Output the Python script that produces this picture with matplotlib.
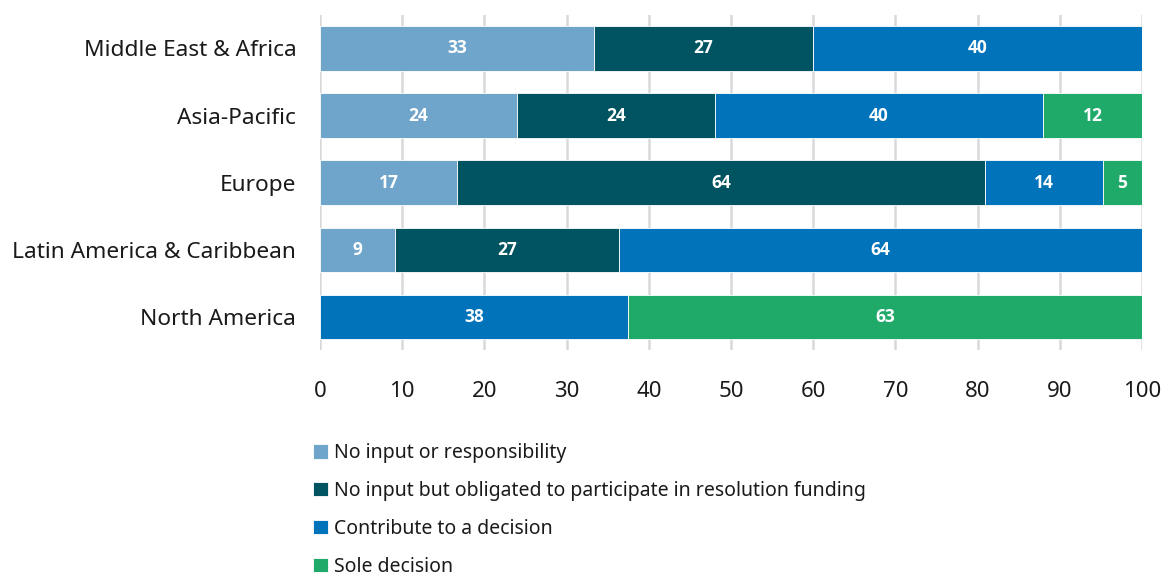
import matplotlib

matplotlib.use("Agg")
import matplotlib.pyplot as plt
import numpy as np

plt.rcParams["font.family"] = ["Noto Sans", "DejaVu Sans"]

regions = [
    "Middle East & Africa",
    "Asia-Pacific",
    "Europe",
    "Latin America & Caribbean",
    "North America",
]
series_names = [
    "No input or responsibility",
    "No input but obligated to participate in resolution funding",
    "Contribute to a decision",
    "Sole decision",
]
# shares per region (%), one list per response
no_input = [33.33, 24.0, 16.67, 9.09, 0.0]
obligated = [26.67, 24.0, 64.29, 27.27, 0.0]
contribute = [40.0, 40.0, 14.29, 63.64, 37.5]
sole = [0.0, 12.0, 4.76, 0.0, 62.5]
colors = ["#6fa4cb", "#005461", "#0073bb", "#1faa69"]

fig = plt.figure(figsize=(11.66, 5.76), dpi=100)
ax = fig.add_axes([0.2744, 0.392, 0.705, 0.582])

y = np.arange(len(regions))
left = np.zeros(len(regions))
for name, vals, color in zip(series_names, [no_input, obligated, contribute, sole], colors):
    vals = np.array(vals)
    ax.barh(y, vals, left=left, height=0.66, color=color, label=name,
            edgecolor="white", linewidth=0.6, zorder=3)
    for yi, l, v in zip(y, left, vals):
        if v > 0:
            # round half up, as in the published table
            ax.text(l + v / 2, yi, f"{int(v + 0.5)}", ha="center", va="center",
                    color="white", fontsize=12.5, fontweight="bold",
                    family=["Open Sans", "DejaVu Sans"], zorder=4)
    left += vals

ax.set_xlim(0, 100)
ax.set_ylim(len(regions) - 0.5, -0.5)
ax.set_xticks(np.arange(0, 101, 10))
ax.set_yticks(y)
ax.set_yticklabels(regions, fontsize=16.3, color="#1a1a1a")
ax.tick_params(axis="x", labelsize=16, labelcolor="#1a1a1a", length=0, pad=22)
ax.tick_params(axis="y", length=0, pad=17)
ax.grid(axis="x", color="#d9d9d9", linewidth=1.8, zorder=0)
for s in ax.spines.values():
    s.set_visible(False)

fig.legend(loc="upper left", bbox_to_anchor=(0.262, 0.244), frameon=False,
           fontsize=14, handlelength=0.75, handleheight=0.75, handletextpad=0.3,
           labelspacing=0.92, borderaxespad=0, labelcolor="#1a1a1a")

fig.savefig("out.png", dpi=100)
